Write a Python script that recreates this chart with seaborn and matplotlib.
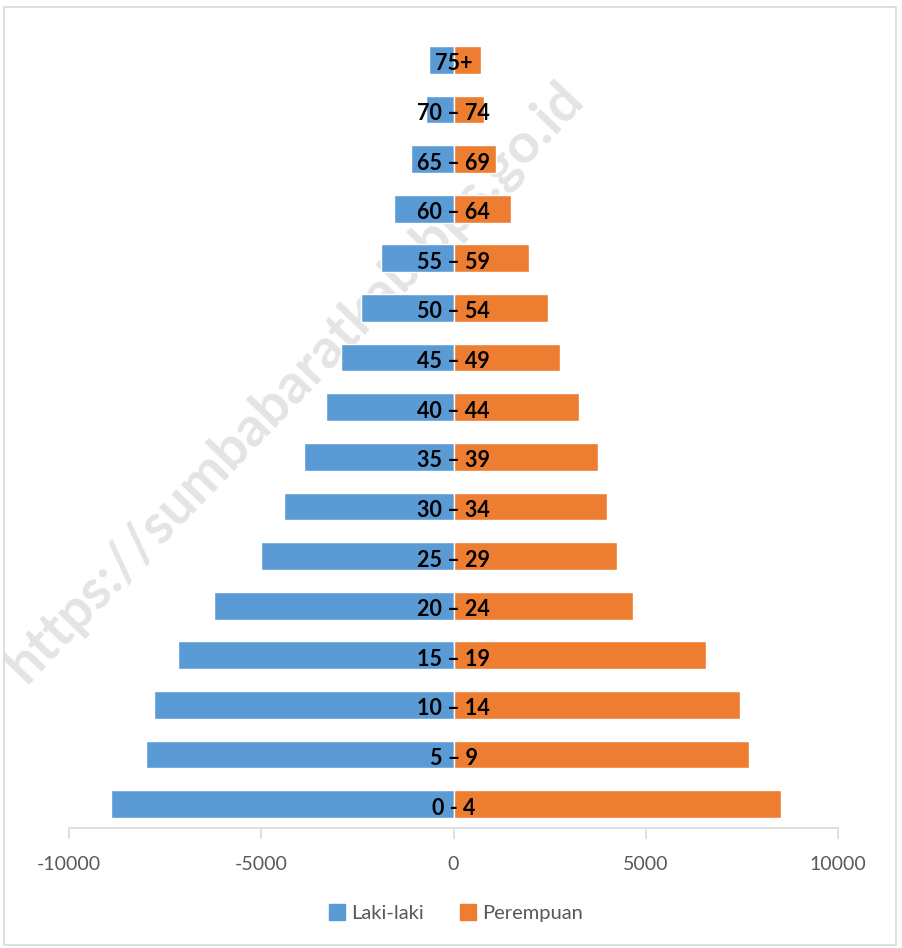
import matplotlib
matplotlib.use("Agg")
import matplotlib.pyplot as plt
import seaborn as sns
import pandas as pd
from matplotlib.patches import Rectangle, Patch

age_groups = ["75+", "70 – 74", "65 – 69", "60 – 64", "55 – 59", "50 – 54", "45 – 49",
              "40 – 44", "35 – 39", "30 – 34", "25 – 29", "20 – 24", "15 – 19",
              "10 – 14", "5 – 9", "0 - 4"]
laki_laki = [650, 727, 1117, 1558, 1896, 2416, 2935, 3325, 3896, 4416, 5013, 6234,
             7169, 7792, 8000, 8909]
perempuan = [727, 805, 1117, 1506, 1974, 2468, 2779, 3273, 3766, 4000, 4260, 4675,
             6571, 7455, 7688, 8519]

BLUE = "#5B9BD5"
ORANGE = "#ED7D31"
GREY_TXT = "#595959"

sns.set_theme(style="white")
plt.rcParams['font.family'] = ['Lato', 'DejaVu Sans']

df = pd.DataFrame({"age": age_groups,
                   "male": [-v for v in laki_laki],
                   "female": perempuan})

fig = plt.figure(figsize=(9.02, 9.48), dpi=100)
ax = fig.add_axes([69/902, 1 - 828/948, (838-69)/902, (828-36)/948])
ax.patch.set_alpha(0)

sns.barplot(data=df, y="age", x="male", order=age_groups, color=BLUE,
            width=0.56, saturation=1, orient="h", ax=ax, zorder=2)
sns.barplot(data=df, y="age", x="female", order=age_groups, color=ORANGE,
            width=0.56, saturation=1, orient="h", ax=ax, zorder=2)

ax.set_xlim(-10000, 10000)
ax.set_ylim(len(age_groups) - 1 + 0.48, -0.48)
ax.set_xticks([-10000, -5000, 0, 5000, 10000])
ax.set_xticklabels(["-10000", "-5000", "0", "5000", "10000"])
ax.set_yticks([])
ax.set_xlabel("")
ax.set_ylabel("")
for s in ["top", "right", "left"]:
    ax.spines[s].set_visible(False)
ax.spines["bottom"].set_color("#d9d9d9")
ax.spines["bottom"].set_linewidth(1.2)
ax.tick_params(axis="x", bottom=True, length=8, width=1.2, color="#d9d9d9",
               labelsize=14, labelcolor=GREY_TXT, pad=12)

for i, lab in enumerate(age_groups):
    ax.text(0, i + 0.08, lab, ha="center", va="center", fontsize=15.5,
            fontweight="bold", color="black", zorder=5)

# chart border
border = Rectangle((4/902, 3/948), (896-4)/902, (941-3)/948,
                   transform=fig.transFigure, fill=False,
                   edgecolor="#d9d9d9", linewidth=1.2)
fig.patches.append(border)

# watermark (behind bars), clipped to the chart border
wm = ax.text(0.326, 0.597, "https://sumbabaratkab.bps.go.id", rotation=46.2,
             transform=fig.transFigure, ha="center", va="center", fontsize=40,
             fontweight="bold", color="#e4e4e4", zorder=0.5, clip_on=True)
wm.set_clip_path(Rectangle((4/902, 3/948), (896-4)/902, (941-3)/948,
                           transform=fig.transFigure))

# legend
handles = [Patch(color=BLUE, label="Laki-laki"), Patch(color=ORANGE, label="Perempuan")]
fig.legend(handles=handles, loc="center", bbox_to_anchor=(456/902, 1 - 913/948),
           ncol=2, frameon=False, fontsize=14.5, labelcolor=GREY_TXT,
           handlelength=0.8, handleheight=0.8, handletextpad=0.3, columnspacing=1.8)

fig.savefig("out.png", dpi=100, facecolor="white")
